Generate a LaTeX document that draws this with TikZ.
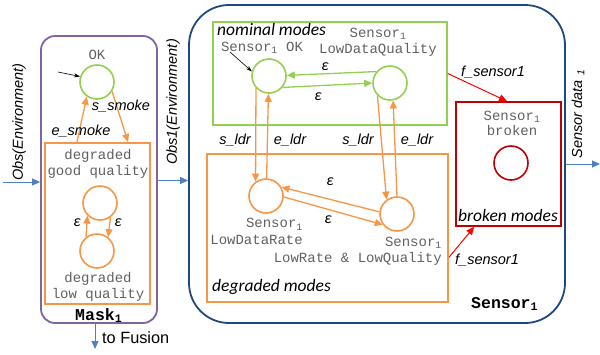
\documentclass[tikz,border=0pt]{standalone}
\usepackage{fontspec}
\setmainfont{Liberation Sans}
\newfontfamily\monofont{Liberation Mono}
\newfontfamily\calfont{Carlito}
\usetikzlibrary{arrows.meta,calc}
\definecolor{cgreen}{HTML}{92D050}
\definecolor{corange}{HTML}{F79646}
\definecolor{cpurple}{HTML}{8064A2}
\definecolor{cnavy}{HTML}{1F497D}
\definecolor{cblue}{HTML}{4F81BD}
\definecolor{cdred}{HTML}{C00000}
\definecolor{cred}{HTML}{FF0000}
\definecolor{ctext}{HTML}{606060}
\begin{document}
\begin{tikzpicture}[x=1pt,y=-1pt,
  state/.style={circle,draw,line width=1.6pt,minimum size=34pt,inner sep=0pt},
  box/.style={draw,line width=1.8pt,inner sep=0pt},
  mono/.style={font=\monofont\fontsize{14}{16.5}\selectfont,text=ctext,inner sep=0pt},
  bmono/.style={font=\monofont\bfseries\fontsize{16.5}{19}\selectfont,inner sep=0pt},
  lab/.style={font=\itshape\fontsize{14.5}{16}\selectfont,inner sep=0pt},
  eps/.style={font=\calfont\itshape\fontsize{16}{17}\selectfont,inner sep=0pt},
  modes/.style={font=\calfont\itshape\fontsize{17.5}{19}\selectfont,inner sep=0pt},
  oarr/.style={-{Triangle[length=8pt,width=7pt]},line width=1.3pt,corange},
  garr/.style={-{Triangle[length=8pt,width=7pt]},line width=1.3pt,cgreen},
  barr/.style={-{Triangle[length=8pt,width=7pt]},line width=1pt,cblue},
  rarr/.style={-{Triangle[length=8pt,width=7pt]},line width=1pt,cred},
  karr/.style={-{Stealth[length=6pt,width=4pt]},line width=0.6pt,black}]
\useasboundingbox (0,0) rectangle (600,354);

% ---------- Mask ----------
\node[box,cpurple,rounded corners=14pt,minimum width=116pt,minimum height=287pt] (mask) at (99,179.5) {};
\node[box,corange,minimum width=105pt,minimum height=161pt] (maskdeg) at (97.5,223.5) {};
\node[state,cgreen] (ok) at (97,82) {};
\node[mono] (oktxt) at (97,55) {OK};
\coordinate (okin) at (58,72);
\draw[karr] (okin) -- (ok.162);
\draw[oarr] ([xshift=-20.5pt]maskdeg.north) -- (ok.235);
\draw[oarr] (ok.-32) -- ([xshift=30.5pt]maskdeg.north);
\node[lab] (ssmoke) at (121,106) {s\_smoke};
\node[lab] (esmoke) at (81,131) {e\_smoke};
\node[mono,align=center] (dgq) at (98,164) {degraded\\good quality};
\node[state,corange] (dup) at (100,203) {};
\node[state,corange] (dlow) at (97,251) {};
\draw[oarr] (dlow.128) -- (dup.225);
\draw[oarr] (dup.-54) -- (dlow.51);
\node[eps] (e1) at (77,223) {ε};
\node[eps] (e2) at (118,223) {ε};
\node[mono,align=center] (dlq) at (98,287) {degraded\\low quality};
\node[bmono,anchor=base west] (masklab) at (75,320) {Mask\textsubscript{1}};

% inputs / outputs of mask
\coordinate (obsin) at (3,182);
\draw[barr] (obsin) -- (obsin -| mask.west);
\node[lab,rotate=90] (obs) at (19,122) {Obs(Environment)};
\coordinate (fusion) at (95,349);
\draw[barr] (fusion |- mask.south) -- (fusion);
\node[font=\fontsize{16.3}{18}\selectfont,anchor=base west,inner sep=0pt] (fus) at (102,343) {to Fusion};

% ---------- Sensor ----------
\node[box,cnavy,rounded corners=40pt,minimum width=376pt,minimum height=318pt] (sensor) at (377,164) {};
\draw[barr] ($(mask.east)+(0,1)$) -- ($(mask.east -| sensor.west)+(0,1)$);
\node[lab,rotate=90] (obs1) at (173,102) {Obs1(Environment)};
\node[bmono,anchor=base west] (senslab) at (471,308) {Sensor\textsubscript{1}};

% nominal
\node[box,cgreen,line width=1.6pt,minimum width=234pt,minimum height=103pt] (nom) at (330,73.5) {};
\node[modes,anchor=west] (nomlab) at (217,29) {nominal modes};
\node[state,cgreen] (oks) at (269,76) {};
\node[mono] (okstxt) at (262,48) {Sensor\textsubscript{1} OK};
\coordinate (oksin) at (230,52);
\draw[karr] (oksin) -- (oks.165);
\node[state,cgreen] (ldq) at (390,83) {};
\node[mono,align=center] (ldqtxt) at (378,42.5) {Sensor\textsubscript{1}\\LowDataQuality};
\draw[garr] (ldq.140) -- (oks.2);
\draw[garr] (oks.-40) -- (ldq.180);
\node[eps] (e3) at (325,67) {ε};
\node[eps] (e4) at (318,97) {ε};

% degraded
\node[box,corange,minimum width=241pt,minimum height=148pt] (deg) at (327.5,228) {};
\node[modes,anchor=west] (deglab) at (212,287) {degraded modes};
\node[state,corange] (ldr) at (266,196) {};
\node[mono,align=right,anchor=east] (ldrtxt) at (303,231.5) {Sensor\textsubscript{1}\\LowDataRate};
\node[state,corange] (lrlq) at (397,214) {};
\node[mono,align=right,anchor=east] (lrlqtxt) at (442,251.5) {Sensor\textsubscript{1}\\LowRate \& LowQuality};
\draw[oarr] (oks.223) -- (ldr.126);
\draw[oarr] (ldr.88) -- (oks.-92);
\draw[oarr] (ldq.225) -- (lrlq.126);
\draw[oarr] (lrlq.90) -- (ldq.-80);
\node[lab] (sl1) at (235,140) {s\_ldr};
\node[lab] (el1) at (290,140) {e\_ldr};
\node[lab] (sl2) at (358,140) {s\_ldr};
\node[lab] (el2) at (417,140) {e\_ldr};
\draw[oarr] (lrlq.173) -- (ldr.30);
\draw[oarr] (ldr.-3) -- (lrlq.217);
\node[eps] (e5) at (330,182) {ε};
\node[eps] (e6) at (328,220) {ε};

% broken
\node[box,cdred,line width=1.6pt,minimum width=105pt,minimum height=124pt] (broken) at (508.5,164) {};
\node[mono,align=center,font=\monofont\fontsize{14}{15}\selectfont] (brtxt) at (512,123.5) {Sensor\textsubscript{1}\\broken};
\node[state,cdred] (br) at (511,163) {};
\node[modes] (brlab) at (508,215) {broken modes};
\draw[rarr] (nom.east) -- ([xshift=-1.5pt]broken.north);
\draw[rarr] ($(deg.north east)!0.696!(deg.south east)$) -- ([xshift=19pt]broken.south west);
\node[lab] (fs1) at (493,72) {f\_sensor1};
\node[lab] (fs2) at (487,260) {f\_sensor1};

% sensor output
\coordinate (sout) at (600,164);
\draw[barr] (sensor.east) -- (sout);
\node[lab,rotate=90] (sdata) at (578,114) {Sensor data \textsubscript{1}};
\end{tikzpicture}
\end{document}
